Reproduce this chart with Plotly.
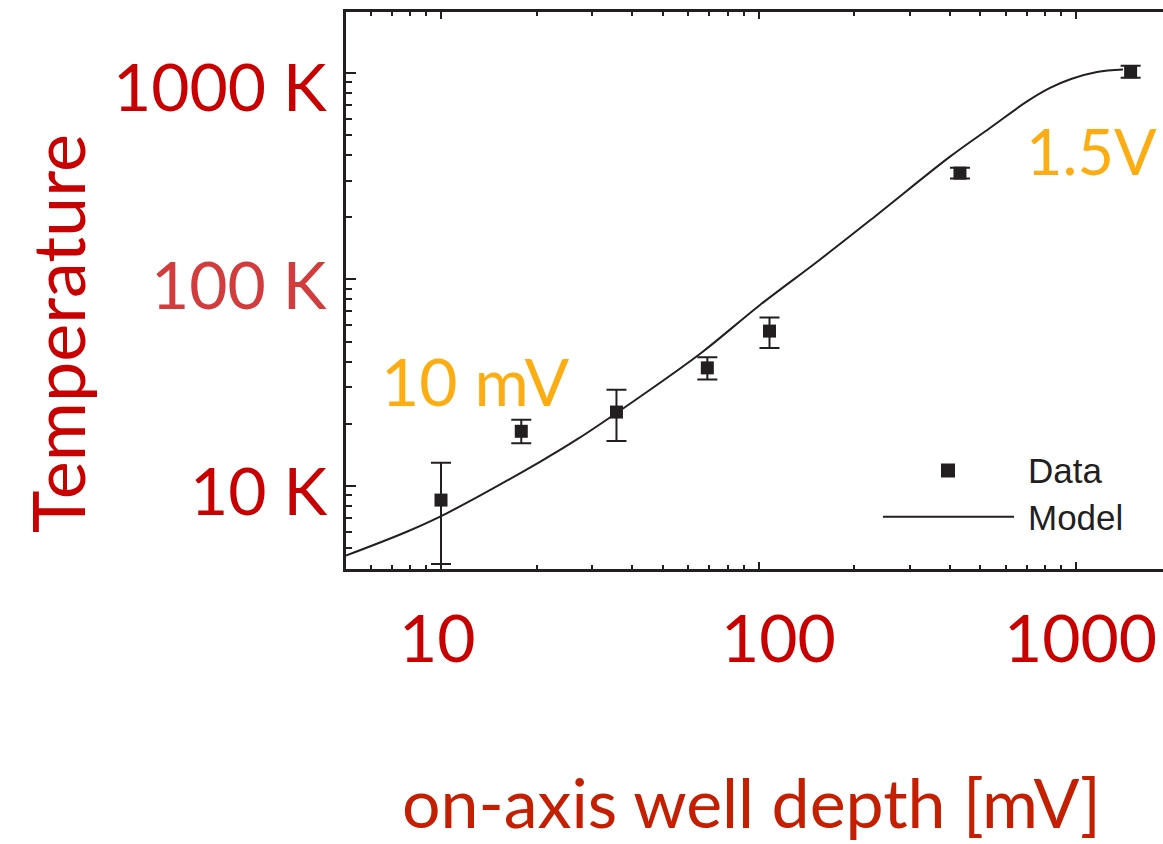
import math
import plotly.graph_objects as go

# ---------------- data ----------------
data_x = [10.0, 17.9, 35.7, 69.0, 108.3, 431.0, 1486.0]
data_y = [8.55, 18.4, 22.8, 37.3, 56.2, 326.6, 1011.0]
data_err_plus = [4.41, 2.5, 6.4, 4.7, 9.1, 20.0, 70.0]
data_err_minus = [4.36, 2.3, 6.3, 4.5, 9.6, 19.0, 65.0]

model_x = [5.0, 7.80, 10.42, 20.5, 26.8, 41.7, 65.8, 101.1, 156.0, 233.3,
           401.0, 535.8, 699.4, 828.3, 964.4, 1164.5, 1406.0]
model_y = [4.6, 6.01, 7.38, 13.1, 16.8, 26.6, 43.9, 75.2, 124.5, 202.2,
           392.4, 540.1, 723.8, 843.4, 932.2, 1007.9, 1036.3]

x_tick_values = [10, 100, 1000]
x_tick_labels = ["10", "100", "1000"]
y_tick_values = [10, 100, 1000]
y_tick_labels = ["10 K", "100 K", "1000 K"]

x_title = "on-axis well depth [mV]"
y_title = "Temperature"
note_low = "10 mV"
note_high = "1.5V"
legend_labels = ["Data", "Model"]

# ---------------- layout geometry (pixels) ----------------
W, H = 1163, 844
L, T, R, B = 346, 12, 1163, 569  # plot area edges
PW, PH = R - L, B - T


def X(px):
    return (px - L) / PW


def Y(py):
    return (B - py) / PH


RED = "#c80000"
RED_LIGHT = "#d23c3c"
TITLE_RED = "#c41f00"
ORANGE = "#fdad14"
INK = "#231f20"
FONT = "Lato"

fig = go.Figure()

fig.add_trace(go.Scatter(
    x=model_x, y=model_y, mode="lines",
    line=dict(color=INK, width=2, shape="spline", smoothing=1.0),
    showlegend=False, hoverinfo="skip",
))

fig.add_trace(go.Scatter(
    x=data_x, y=data_y, mode="markers",
    marker=dict(symbol="square", size=13, color=INK),
    error_y=dict(type="data", symmetric=False, array=data_err_plus,
                 arrayminus=data_err_minus, color=INK, thickness=2, width=10),
    showlegend=False,
))

minor_vals = [m * 10 ** e for e in range(0, 4) for m in range(2, 10)]

fig.update_xaxes(
    type="log", range=[0.7008, 3.274],
    showline=True, linecolor=INK, linewidth=2.5, mirror="allticks",
    ticks="inside", tickvals=x_tick_values, ticklen=7, tickwidth=2, tickcolor=INK,
    showticklabels=False, showgrid=False, zeroline=False,
    minor=dict(tickvals=minor_vals, ticks="inside", ticklen=4, tickwidth=1.5,
               tickcolor=INK, showgrid=False),
)
fig.update_yaxes(
    type="log", range=[0.5985, 3.2937],
    showline=True, linecolor=INK, linewidth=2.5, mirror=False,
    ticks="inside", tickvals=y_tick_values, ticklen=10, tickwidth=2, tickcolor=INK,
    showticklabels=False, showgrid=False, zeroline=False,
    minor=dict(tickvals=minor_vals, ticks="inside", ticklen=6, tickwidth=1.5,
               tickcolor=INK, showgrid=False),
)

LABEL_SIZE = 66
ann = []
# y tick labels
y_colors = [RED, RED_LIGHT, RED]
y_shifts = [-3, -4, -13]
for v, lab, c, s in zip(y_tick_values, y_tick_labels, y_colors, y_shifts):
    ann.append(dict(x=0, xref="paper", y=math.log10(v), yref="y", text=lab,
                    xanchor="right", yanchor="middle", xshift=-17, yshift=s,
                    showarrow=False, font=dict(family=FONT, size=LABEL_SIZE, color=c)))
# x tick labels
x_shifts = [-4, 20, 4]
for v, lab, s in zip(x_tick_values, x_tick_labels, x_shifts):
    ann.append(dict(x=math.log10(v), xref="x", y=Y(636), yref="paper", text=lab,
                    xanchor="center", yanchor="middle", xshift=s,
                    showarrow=False, font=dict(family=FONT, size=LABEL_SIZE, color=RED)))
# axis titles
ann.append(dict(x=X(57), y=Y(334), xref="paper", yref="paper", text=y_title,
                textangle=-90, xanchor="center", yanchor="middle", showarrow=False,
                font=dict(family=FONT, size=72, color=RED)))
ann.append(dict(x=X(751), y=Y(801), xref="paper", yref="paper", text=x_title,
                xanchor="center", yanchor="middle", showarrow=False,
                font=dict(family=FONT, size=68, color=TITLE_RED)))
# notes
ann.append(dict(x=X(379), y=Y(380), xref="paper", yref="paper", text=note_low,
                xanchor="left", yanchor="middle", showarrow=False,
                font=dict(family=FONT, size=LABEL_SIZE, color=ORANGE)))
ann.append(dict(x=X(1024), y=Y(151), xref="paper", yref="paper", text=note_high,
                xanchor="left", yanchor="middle", showarrow=False,
                font=dict(family=FONT, size=63, color=ORANGE)))
# legend text
for lab, cy in zip(legend_labels, [470.5, 517.5]):
    ann.append(dict(x=X(1026), y=Y(cy), xref="paper", yref="paper", text=lab,
                    xanchor="left", yanchor="middle", showarrow=False,
                    font=dict(family="Liberation Sans", size=35, color=INK)))

shapes = [
    dict(type="rect", xref="paper", yref="paper",
         x0=X(941), x1=X(955), y0=Y(477.5), y1=Y(463.5),
         fillcolor=INK, line=dict(width=0)),
    dict(type="line", xref="paper", yref="paper",
         x0=X(883), x1=X(1014), y0=Y(516.7), y1=Y(516.7),
         line=dict(color=INK, width=2)),
]

fig.update_layout(
    width=W, height=H,
    margin=dict(l=L, r=W - R, t=T, b=H - B, pad=0),
    paper_bgcolor="white", plot_bgcolor="white",
    annotations=ann, shapes=shapes, showlegend=False,
)

fig.write_html("out.html", config={"displayModeBar": False},
               post_script="document.body.style.margin='0';")
